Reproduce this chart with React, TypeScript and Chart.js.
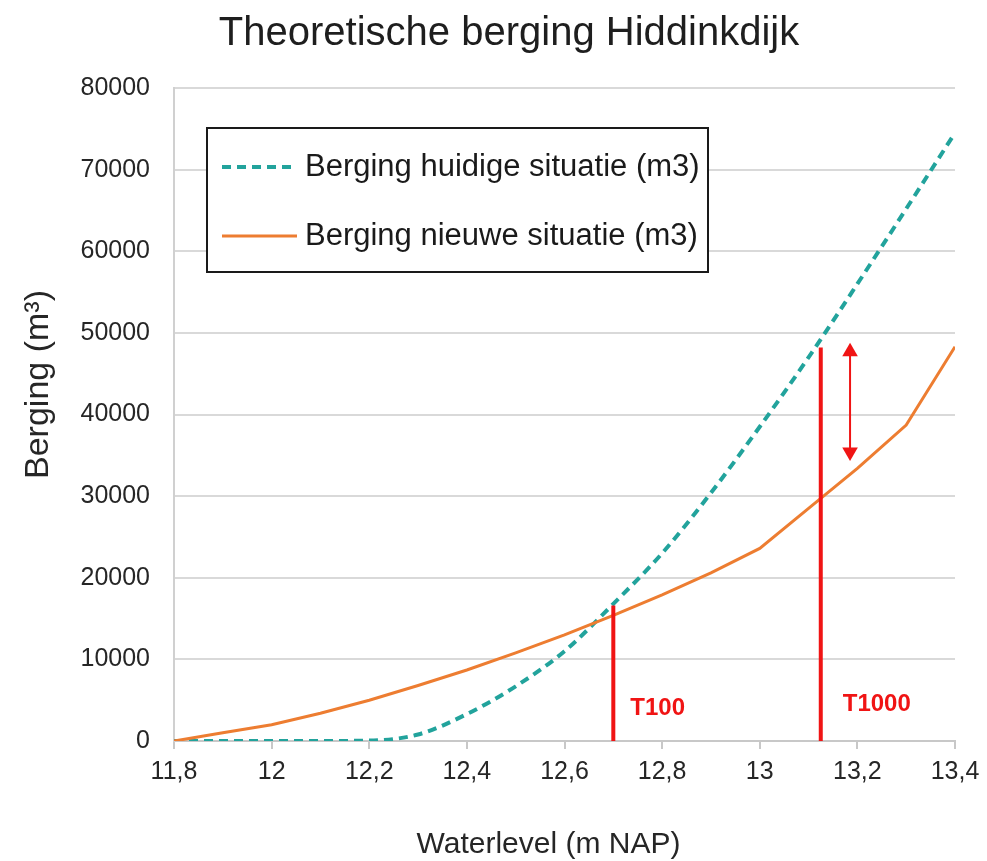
import React, { useEffect, useRef } from "react";
import { Chart, registerables } from "chart.js";

Chart.register(...registerables);

// ---- data ----
const chartTitle = "Theoretische berging Hiddinkdijk";
const xAxisTitle = "Waterlevel (m NAP)";
const yAxisTitle = "Berging (m³)";
const seriesNames = ["Berging huidige situatie (m3)", "Berging nieuwe situatie (m3)"];

const waterLevels = [11.8, 11.9, 12.0, 12.1, 12.2, 12.3, 12.4, 12.5, 12.6, 12.7, 12.8, 12.9, 13.0, 13.1, 13.2, 13.3, 13.4];
const bergingHuidig = [0, 0, 0, 0, 50, 800, 3300, 6700, 11000, 16800, 23000, 30400, 38500, 47000, 56000, 65200, 74500];
const bergingNieuw = [0, 1000, 2000, 3400, 5000, 6800, 8700, 10800, 13000, 15400, 17900, 20600, 23600, 28500, 33400, 38700, 48300];

const markerLabels = ["T100", "T1000"];
const markerLevels = [12.7, 13.125];
const markerTops = [16600, 48200];

const arrowLevel = 13.185;
const arrowRange = [35400, 47700];

const xMin = 11.8;
const xMax = 13.4;
const xStep = 0.2;
const yMin = 0;
const yMax = 80000;
const yStep = 10000;

const FONT = '"Liberation Sans", Arial, Helvetica, sans-serif';
const RED = "#f01414";
const TEAL = "#22a39c";
const ORANGE = "#ed7d31";
const TEXT = "#262626";

const titlePlugin = {
  id: "customTitle",
  afterDraw(chart: any) {
    const { ctx, chartArea } = chart;
    ctx.save();
    ctx.fillStyle = "#1e1e1e";
    ctx.font = `40px ${FONT}`;
    ctx.textAlign = "center";
    ctx.textBaseline = "middle";
    ctx.fillText(chartTitle, 501, 26);
    // x-axis title
    ctx.fillStyle = TEXT;
    ctx.font = `30px ${FONT}`;
    ctx.fillText(xAxisTitle, (chartArea.left + chartArea.right) / 2 - 16, chartArea.bottom + 104);
    // y-axis title (rotated)
    ctx.font = `34px ${FONT}`;
    ctx.translate(31, (chartArea.top + chartArea.bottom) / 2 - 30);
    ctx.rotate(-Math.PI / 2);
    ctx.fillText(yAxisTitle, 0, 0);
    ctx.restore();
  },
};

const markerTextPlugin = {
  id: "markerText",
  afterDatasetsDraw(chart: any) {
    const { ctx, chartArea, scales } = chart;
    ctx.save();
    ctx.fillStyle = RED;
    ctx.font = `bold 24px ${FONT}`;
    ctx.textAlign = "left";
    ctx.textBaseline = "middle";
    markerLabels.forEach((label, i) => {
      const px = scales.x.getPixelForValue(markerLevels[i]);
      const py = chartArea.bottom - (i === 0 ? 33 : 37);
      ctx.fillText(label, px + (i === 0 ? 17 : 22), py);
    });
    ctx.restore();
  },
};

const boxLegendPlugin = {
  id: "boxLegend",
  afterDatasetsDraw(chart: any) {
    const { ctx, chartArea } = chart;
    const x0 = chartArea.left + 33;
    const y0 = chartArea.top + 40;
    const w = 501;
    const h = 144;
    ctx.save();
    ctx.fillStyle = "#ffffff";
    ctx.fillRect(x0, y0, w, h);
    ctx.strokeStyle = "#1a1a1a";
    ctx.lineWidth = 2;
    ctx.strokeRect(x0, y0, w, h);
    seriesNames.forEach((name, i) => {
      const ds: any = chart.data.datasets[i];
      const cy = y0 + 39 + i * 69;
      ctx.beginPath();
      ctx.setLineDash(ds.borderDash || []);
      ctx.strokeStyle = ds.borderColor;
      ctx.lineWidth = ds.borderWidth;
      ctx.moveTo(x0 + 15, cy);
      ctx.lineTo(x0 + 90, cy);
      ctx.stroke();
      ctx.setLineDash([]);
      ctx.fillStyle = "#1a1a1a";
      ctx.font = `31px ${FONT}`;
      ctx.textAlign = "left";
      ctx.textBaseline = "middle";
      ctx.fillText(name, x0 + 98, cy);
    });
    ctx.restore();
  },
};

function fmtX(v: number) {
  return String(Number(v.toFixed(1))).replace(".", ",");
}

export default function App() {
  const canvasRef = useRef<HTMLCanvasElement | null>(null);

  useEffect(() => {
    document.body.style.overflow = "hidden";
    if (!canvasRef.current) return;
    const toPts = (ys: number[]) => waterLevels.map((x, i) => ({ x, y: ys[i] }));

    const datasets: any[] = [
      {
        label: seriesNames[0],
        data: toPts(bergingHuidig),
        borderColor: TEAL,
        borderWidth: 4,
        borderDash: [9, 6],
        pointRadius: 0,
        cubicInterpolationMode: "monotone",
        order: 2,
      },
      {
        label: seriesNames[1],
        data: toPts(bergingNieuw),
        borderColor: ORANGE,
        borderWidth: 3,
        pointRadius: 0,
        tension: 0,
        order: 1,
      },
    ];
    markerLevels.forEach((lvl, i) => {
      datasets.push({
        label: markerLabels[i],
        data: [
          { x: lvl, y: 0 },
          { x: lvl, y: markerTops[i] },
        ],
        borderColor: RED,
        borderWidth: 4,
        pointRadius: 0,
        order: 0,
      });
    });
    datasets.push({
      label: "verschil",
      data: [
        { x: arrowLevel, y: arrowRange[0] },
        { x: arrowLevel, y: arrowRange[1] },
      ],
      borderColor: RED,
      borderWidth: 2,
      pointStyle: "triangle",
      pointRadius: 9,
      pointRotation: [180, 0],
      pointBackgroundColor: RED,
      pointBorderColor: RED,
      pointBorderWidth: 0,
      order: 0,
    });

    const chart = new Chart(canvasRef.current, {
      type: "line",
      data: { datasets },
      plugins: [titlePlugin, boxLegendPlugin, markerTextPlugin],
      options: {
        animation: false,
        responsive: false,
        maintainAspectRatio: false,
        layout: { padding: { top: 80, right: 24, bottom: 0, left: 0 } },
        plugins: {
          legend: { display: false },
          title: { display: false },
          tooltip: { enabled: false },
        },
        scales: {
          x: {
            type: "linear",
            min: xMin,
            max: xMax,
            ticks: {
              stepSize: xStep,
              callback: (v: any) => fmtX(Number(v)),
              color: TEXT,
              font: { family: FONT, size: 25 },
              padding: 8,
              maxRotation: 0,
              autoSkip: false,
            },
            grid: {
              drawOnChartArea: false,
              drawTicks: true,
              tickLength: 8,
              color: "#c8c8c8",
              lineWidth: 2,
            },
            border: { display: true, color: "#c8c8c8", width: 2 },
            title: { display: false },
            afterFit: (scale: any) => {
              scale.height = 120;
              scale.paddingRight = 0;
              scale.paddingLeft = 0;
            },
          },
          y: {
            type: "linear",
            min: yMin,
            max: yMax,
            ticks: {
              stepSize: yStep,
              callback: (v: any) => String(v),
              color: TEXT,
              font: { family: FONT, size: 25 },
              padding: 24,
            },
            grid: {
              drawTicks: false,
              color: "#d9d9d9",
              lineWidth: 2,
            },
            border: { display: true, color: "#d0d0d0", width: 2 },
            title: { display: false },
            afterFit: (scale: any) => {
              scale.width = 166;
            },
          },
        },
      } as any,
    });
    return () => chart.destroy();
  }, []);

  return (
    <div style={{ width: 971, height: 853, position: "relative" }}>
      <canvas ref={canvasRef} width={971} height={853} style={{ display: "block", width: 971, height: 853 }} />
    </div>
  );
}
